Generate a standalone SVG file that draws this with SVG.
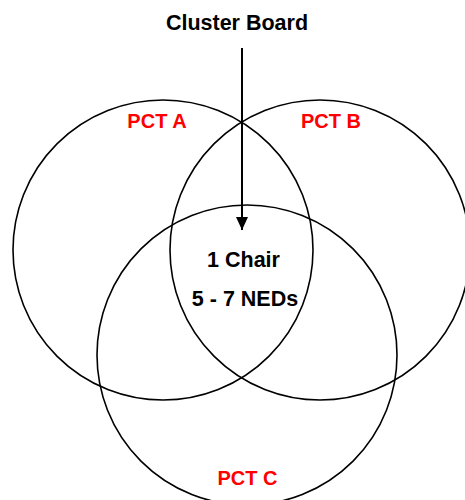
<svg xmlns="http://www.w3.org/2000/svg" width="465" height="500" viewBox="0 0 465 500">
<style>
.c{fill:none;stroke:#000;stroke-width:1.6}
.t{font-family:"Liberation Sans",Arial,sans-serif;font-weight:bold;font-size:20px;text-anchor:middle}
.r{fill:#FF0000}
.k{fill:#000}
.m{font-size:21.5px}
</style>
<defs>
<marker id="ah" markerWidth="13" markerHeight="12" refX="13" refY="6" orient="auto" markerUnits="userSpaceOnUse" viewBox="0 0 13 12">
<path d="M0,0 L13,6 L0,12 Z" fill="#000"/>
</marker>
</defs>
<g id="pctA"><circle class="c" cx="163" cy="250" r="150"/><text class="t r" x="157" y="128">PCT A</text></g>
<g id="pctB"><circle class="c" cx="320" cy="250" r="150"/><text class="t r" x="331" y="128">PCT B</text></g>
<g id="pctC"><circle class="c" cx="247" cy="355" r="150"/><text class="t r" x="247.5" y="485">PCT C</text></g>
<g id="title"><text class="t k" x="237" y="30" style="font-size:21.5px">Cluster Board</text></g>
<g id="center"><text class="t k m" x="243.5" y="267">1 Chair</text><text class="t k m" x="245" y="306">5 - 7 NEDs</text></g>
<g id="connectors"><line x1="242" y1="48" x2="242" y2="230" stroke="#000" stroke-width="2" marker-end="url(#ah)"/></g>
</svg>
